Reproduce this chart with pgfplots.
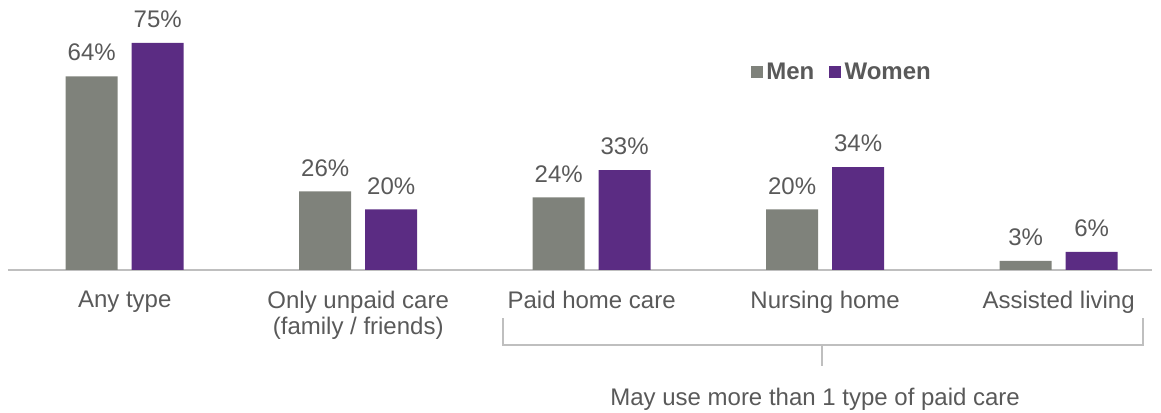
\documentclass[border=0pt]{standalone}
\usepackage{pgfplots}
\pgfplotsset{compat=1.18}
\usepackage{fontspec}
\setmainfont{Liberation Sans}
\definecolor{men}{HTML}{7F827B}
\definecolor{women}{HTML}{5B2C83}
\definecolor{txt}{HTML}{595959}
\definecolor{axl}{HTML}{BFBFBF}
\begin{document}
\begin{tikzpicture}
  \begin{axis}[
      at={(4.8pt,85.8pt)}, anchor=south west,
      scale only axis, width=686.4pt, height=145.3pt,
      xmin=-0.5, xmax=4.4, ymin=0, ymax=80,
      ybar=8.4pt, bar width=0.2227,
      axis x line*=bottom, axis y line=none,
      x axis line style={axl, line width=0.8pt, -},
      xtick={0,1,2,3,4}, major tick length=0pt,
      xticklabels={Any type, {Only unpaid care\\(family / friends)}, Paid home care, Nursing home, Assisted living},
      xticklabel style={align=center, font=\fontsize{14.4}{15.6}\selectfont, text=txt, yshift=-9pt},
      ytick=\empty,
      /pgf/number format/assume math mode=true,
      nodes near coords={\pgfmathprintnumber{\pgfplotspointmeta}\%},
      every node near coord/.append style={font=\fontsize{14.4}{16}\selectfont, text=txt, yshift=5.5pt},
      clip=false,
      legend style={at={(0.645,0.8175)}, anchor=west, draw=none, fill=none,
        legend columns=-1, font=\fontsize{14.4}{16}\selectfont\bfseries, text=txt,
        /tikz/every even column/.append style={column sep=7pt}},
      legend image code/.code={\fill[#1] (0cm,-0.125cm) rectangle (0.25cm,0.125cm);},
    ]
    \addplot[fill=men, draw=none]
      coordinates {(0,64) (1,26) (2,24) (3,20) (4,3)};
    \addplot[fill=women, draw=none]
      coordinates {(0,75) (1,20) (2,33) (3,34) (4,6)};
    \legend{Men, Women}
    % bracket grouping the paid care categories
    \draw[axl, line width=0.8pt] (axis cs:1.62,-15.9) -- (axis cs:1.62,-24.8) -- (axis cs:4.362,-24.8) -- (axis cs:4.362,-15.9);
    \draw[axl, line width=0.8pt] (axis cs:2.987,-24.8) -- (axis cs:2.987,-31.7);
    \node[text=txt, font=\fontsize{14.4}{16}\selectfont] at (axis cs:2.957,-42.6) {May use more than 1 type of paid care};
  \end{axis}
  \pgfresetboundingbox
  \path[use as bounding box] (0,0) rectangle (696.6pt,247.8pt);
\end{tikzpicture}
\end{document}
